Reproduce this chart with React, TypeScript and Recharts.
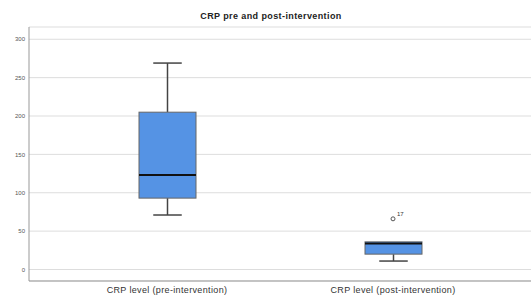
import React from 'react';
import {
  ComposedChart,
  Bar,
  Scatter,
  XAxis,
  YAxis,
  CartesianGrid,
} from 'recharts';

const categories = ['CRP level (pre-intervention)', 'CRP level (post-intervention)'];
const mins = [71, 11];
const q1s = [93, 20];
const medians = [123, 34];
const q3s = [205, 36];
const maxs = [269, 36];
const outliers: (number | null)[] = [null, 66];
const outlierLabels = ['', '17'];
const yTicks = [0, 50, 100, 150, 200, 250, 300];

const data = categories.map((name, i) => ({
  name,
  min: mins[i],
  q1: q1s[i],
  median: medians[i],
  q3: q3s[i],
  max: maxs[i],
  iqr: q3s[i] - q1s[i],
  outlier: outliers[i],
  label: outlierLabels[i],
}));

const BoxShape = (props: any) => {
  const { x, y, width, height, payload } = props;
  const ppu = height / payload.iqr;
  const cx = x + width / 2;
  const medY = y + (payload.q3 - payload.median) * ppu;
  const maxY = y - (payload.max - payload.q3) * ppu;
  const minY = y + height + (payload.q1 - payload.min) * ppu;
  const cap = width / 4;
  return (
    <g>
      {maxY < y - 0.5 && (
        <>
          <line x1={cx} x2={cx} y1={maxY} y2={y} stroke="#444" strokeWidth={1.5} />
          <line x1={cx - cap} x2={cx + cap} y1={maxY} y2={maxY} stroke="#444" strokeWidth={1.5} />
        </>
      )}
      <line x1={cx} x2={cx} y1={y + height} y2={minY} stroke="#444" strokeWidth={1.5} />
      <line x1={cx - cap} x2={cx + cap} y1={minY} y2={minY} stroke="#444" strokeWidth={1.5} />
      <rect x={x} y={y} width={width} height={height} fill="#5593E4" stroke="#666" strokeWidth={1} />
      <line x1={x} x2={x + width} y1={medY} y2={medY} stroke="#111" strokeWidth={2} />
    </g>
  );
};

const OutlierShape = (props: any) => {
  const { cx, cy, payload } = props;
  if (payload.outlier == null) return null;
  return (
    <g>
      <circle cx={cx} cy={cy} r={2} fill="none" stroke="#555" strokeWidth={1} />
      <text x={cx + 4} y={cy - 3} fontSize={6} fill="#333" fontFamily="Liberation Sans, Arial, sans-serif">
        {payload.label}
      </text>
    </g>
  );
};

export default function App() {
  return (
    <div
      style={{
        position: 'absolute',
        top: 0,
        left: 0,
        width: 531,
        height: 298,
        background: '#fff',
        fontFamily: 'Liberation Sans, Arial, sans-serif',
      }}
    >
      <div
        style={{
          position: 'absolute',
          top: 11,
          left: 0,
          width: 542,
          textAlign: 'center',
          fontSize: 9,
          letterSpacing: 0.4,
          fontWeight: 'bold',
          color: '#222',
        }}
      >
        CRP pre and post-intervention
      </div>
      <ComposedChart
        width={531}
        height={298}
        data={data}
        margin={{ top: 27, right: 0, left: 0, bottom: 0 }}
        barSize={57}
      >
        <CartesianGrid vertical={false} stroke="#ddd" />
        <XAxis
          dataKey="name"
          height={17}
          tickLine={false}
          tickSize={0}
          tickMargin={6}
          padding={{ left: 25, right: 25 }}
          axisLine={{ stroke: '#999' }}
          tick={{ fontSize: 9, fill: '#333', letterSpacing: 0.35 }}
        />
        <YAxis
          width={29}
          domain={[-15, 316]}
          ticks={yTicks}
          tickLine={false}
          tickSize={4}
          tickMargin={0}
          axisLine={{ stroke: '#999' }}
          tick={{ fontSize: 6, fill: '#555' }}
        />
        <Bar dataKey="q1" stackId="a" fill="transparent" isAnimationActive={false} />
        <Bar dataKey="iqr" stackId="a" shape={BoxShape} isAnimationActive={false} />
        <Scatter dataKey="outlier" shape={OutlierShape} isAnimationActive={false} />
      </ComposedChart>
    </div>
  );
}
